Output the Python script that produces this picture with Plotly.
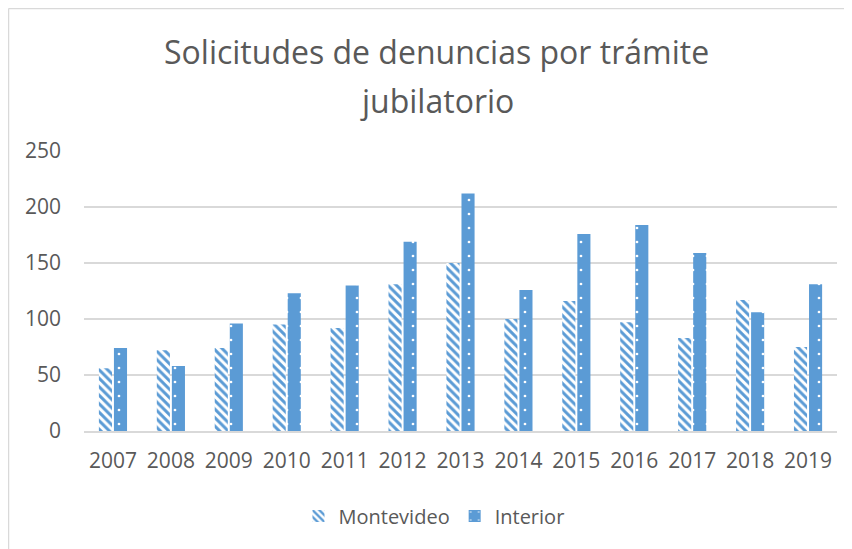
import plotly.graph_objects as go

years = ["2007", "2008", "2009", "2010", "2011", "2012", "2013",
         "2014", "2015", "2016", "2017", "2018", "2019"]
montevideo = [56, 72, 74, 95, 92, 131, 150, 100, 116, 97, 83, 117, 75]
interior = [74, 58, 96, 123, 130, 169, 212, 126, 176, 184, 159, 106, 131]
y_ticks = [0, 50, 100, 150, 200, 250]

BLUE = "#5B9BD5"
TXT = "#595959"
GRID = "#D9D9D9"
FONT = "Open Sans"

fig = go.Figure()
fig.add_trace(go.Bar(
    name="Montevideo", x=years, y=montevideo,
    marker=dict(color="white", line=dict(width=0),
                pattern=dict(shape="\\", fgcolor=BLUE, bgcolor="white",
                             size=6, solidity=0.5, fillmode="replace")),
))
fig.add_trace(go.Bar(
    name="Interior", x=years, y=interior,
    marker=dict(color=BLUE, line=dict(width=0),
                pattern=dict(shape=".", fgcolor="white", bgcolor=BLUE,
                             size=14, solidity=0.03, fillmode="replace")),
))

W, H = 852, 549
OFF = 8  # page offset of the figure inside the browser body
L, T = 84 - OFF, 151 - OFF
R = W - (837 - OFF)
B = H - (431 - OFF)
pw, ph = W - L - R, H - T - B

def px_x(p):
    return (p - OFF - L) / pw

def px_y(p):
    return (H - B - (p - OFF)) / ph

fig.update_layout(
    width=W, height=H,
    margin=dict(l=L, r=R, t=T, b=B),
    paper_bgcolor="white", plot_bgcolor="white",
    barmode="group", bargap=0.48, bargroupgap=0.13,
    font=dict(family=FONT, color=TXT, size=20),
    showlegend=True,
    legend=dict(orientation="h", x=px_x(440) - 0.008, xanchor="center",
                y=px_y(516), yanchor="middle",
                font=dict(family=FONT, size=20, color=TXT),
                itemwidth=30, tracegroupgap=0),
    xaxis=dict(type="category", showgrid=False, showline=True,
               linecolor=GRID, linewidth=1.5, ticks="",
               ticklabelstandoff=10,
               tickfont=dict(family=FONT, size=21, color=TXT)),
    yaxis=dict(range=[0, 250], tickvals=y_ticks, showgrid=True,
               gridcolor=GRID, gridwidth=1.5, zeroline=False,
               showline=False, ticks="", ticklabelstandoff=22,
               tickfont=dict(family=FONT, size=21, color=TXT)),
    annotations=[
        dict(text="Solicitudes de denuncias por trámite", xref="paper",
             yref="paper", x=px_x(436.5), y=px_y(52), xanchor="center",
             yanchor="middle", showarrow=False,
             font=dict(family=FONT, size=32, color=TXT)),
        dict(text="jubilatorio", xref="paper",
             yref="paper", x=px_x(436.5), y=px_y(100), xanchor="center",
             yanchor="middle", showarrow=False,
             font=dict(family=FONT, size=32, color=TXT)),
    ],
    shapes=[
        dict(type="line", xref="paper", yref="paper",
             x0=px_x(OFF + 0.5), x1=px_x(900), y0=px_y(OFF + 0.5),
             y1=px_y(OFF + 0.5), line=dict(color=GRID, width=1.5)),
        dict(type="line", xref="paper", yref="paper",
             x0=px_x(OFF + 0.5), x1=px_x(OFF + 0.5), y0=px_y(OFF + 0.5),
             y1=px_y(600), line=dict(color=GRID, width=1.5)),
    ],
)

fig.write_html("out.html")
